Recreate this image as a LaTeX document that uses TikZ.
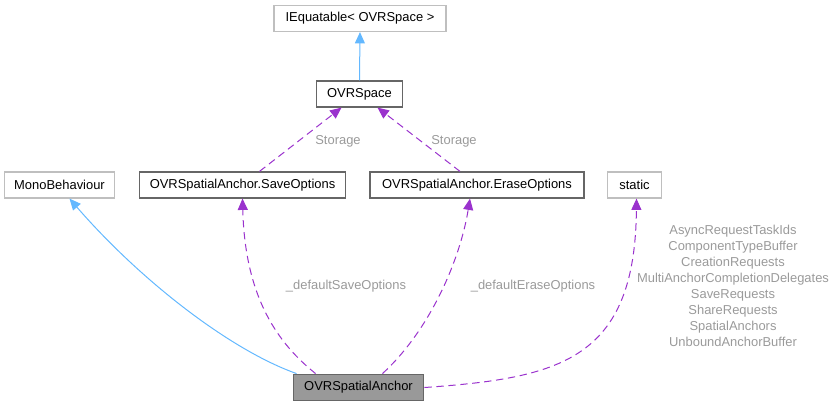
\documentclass[tikz,border=0pt]{standalone}
\usepackage{fontspec}
\setmainfont{Liberation Sans}
\usetikzlibrary{arrows.meta,calc}
\definecolor{edgeblue}{HTML}{63B8FF}
\definecolor{edgepurple}{HTML}{9A32CD}
\definecolor{lblgray}{HTML}{9A9A9A}
\definecolor{lightborder}{HTML}{BFBFBF}
\definecolor{darkborder}{HTML}{666666}
\definecolor{anchorfill}{HTML}{999999}
\begin{document}
\begin{tikzpicture}[x=0.75pt,y=-0.75pt,
  font=\fontsize{9.7}{11}\selectfont,
  box/.style={draw=darkborder,line width=0.9pt,fill=white,inner sep=0pt,minimum height=19.5pt,text=black},
  extbox/.style={draw=lightborder,line width=0.9pt,fill=white,inner sep=0pt,minimum height=19.5pt,text=black},
  mainbox/.style={draw=darkborder,line width=0.9pt,fill=anchorfill,inner sep=0pt,minimum height=20pt,text=black},
  inh/.style={draw=edgeblue,line width=0.75pt,-{Triangle[length=8.5pt,width=7.5pt]}},
  use/.style={draw=edgepurple,line width=0.75pt,dash pattern=on 5.5pt off 3.5pt,-{Triangle[length=8.5pt,width=7.5pt]}},
  lbl/.style={text=lblgray,inner sep=0pt}]
\useasboundingbox (0,0) rectangle (835,407);
\node[extbox,minimum width=129pt] (ieq) at (360,18.5) {IEquatable< OVRSpace >};
\node[box,minimum width=65pt] (space) at (359.5,94) {OVRSpace};
\node[extbox,minimum width=82pt] (mono) at (59.5,185) {MonoBehaviour};
\node[box,minimum width=155pt] (save) at (242.5,185) {OVRSpatialAnchor.SaveOptions};
\node[box,minimum width=160.5pt] (erase) at (477,185) {OVRSpatialAnchor.EraseOptions};
\node[extbox,minimum width=40pt] (stat) at (634.5,185) {static};
\node[mainbox,minimum width=98pt] (anchor) at (358.5,387.5) {OVRSpatialAnchor};

\draw[inh] (space.north) -- (ieq.south);
\draw[use] ($(save.north)+(17,0)$) -- ($(space.south)+(-18,0)$);
\draw[use] ($(erase.north)+(-17,0)$) -- ($(space.south)+(18,0)$);
\node[lbl] (st1) at (338,141) {Storage};
\node[lbl] (st2) at (454,141) {Storage};

\draw[inh] ($(anchor.north west)+(4,0)$) .. controls (230,350) and (140,280) .. ($(mono.south)+(10,0)$);
\draw[use] ($(anchor.north west)+(23,0)$) .. controls (280,345) and (245,300) .. (save.south);
\draw[use] ($(anchor.north)+(24,0)$) .. controls (430,330) and (460,260) .. ($(erase.south)+(-7,0)$);
\draw[use] (anchor.east) .. controls (560,378) and (635,360) .. ($(stat.south)+(2,0)$);

\node[lbl] (l1) at (346,286) {\_defaultSaveOptions};
\node[lbl] (l2) at (533,286) {\_defaultEraseOptions};
\node[lbl,align=center,font=\fontsize{9.7}{12}\selectfont] (l3) at (733,286) {AsyncRequestTaskIds\\ComponentTypeBuffer\\CreationRequests\\MultiAnchorCompletionDelegates\\SaveRequests\\ShareRequests\\SpatialAnchors\\UnboundAnchorBuffer};
\end{tikzpicture}
\end{document}
